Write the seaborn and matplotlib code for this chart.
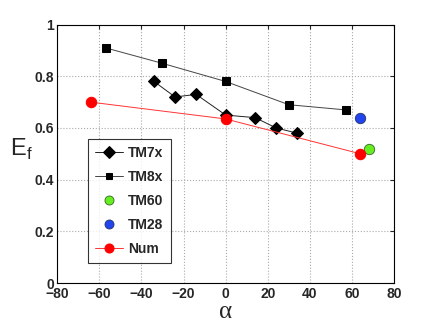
import matplotlib
matplotlib.use("Agg")
import matplotlib.pyplot as plt
import seaborn as sns
import pandas as pd

# Values
tm7x_alpha = [-34, -24, -14, 0, 14, 24, 34]
tm7x_ef = [0.78, 0.72, 0.73, 0.65, 0.64, 0.60, 0.58]

tm8x_alpha = [-57, -30, 0, 30, 57]
tm8x_ef = [0.91, 0.85, 0.78, 0.69, 0.67]

tm60_alpha = [68]
tm60_ef = [0.52]

tm28_alpha = [64]
tm28_ef = [0.64]

num_alpha = [-64, 0, 64]
num_ef = [0.70, 0.635, 0.50]

sns.set_style("white")
plt.rcParams['font.family'] = ['Liberation Sans', 'DejaVu Sans']

fig = plt.figure(figsize=(4.36, 3.28), dpi=100)
ax = fig.add_axes([0.131, 0.137, 0.773, 0.788])

df7 = pd.DataFrame({'alpha': tm7x_alpha, 'Ef': tm7x_ef})
df8 = pd.DataFrame({'alpha': tm8x_alpha, 'Ef': tm8x_ef})
dfn = pd.DataFrame({'alpha': num_alpha, 'Ef': num_ef})

sns.lineplot(data=df7, x='alpha', y='Ef', ax=ax, color='#222222', lw=0.7,
             marker='D', markersize=6.5, markerfacecolor='black',
             markeredgecolor='black', label='TM7x', sort=False)
sns.lineplot(data=df8, x='alpha', y='Ef', ax=ax, color='#444444', lw=0.7,
             marker='s', markersize=6, markerfacecolor='black',
             markeredgecolor='black', label='TM8x', sort=False)
ax.plot(tm60_alpha, tm60_ef, ls='none', marker='o', markersize=7.5,
        markerfacecolor='#66ee22', markeredgecolor='#336622', mew=0.6, label='TM60')
ax.plot(tm28_alpha, tm28_ef, ls='none', marker='o', markersize=7.5,
        markerfacecolor='#2244ee', markeredgecolor='#223366', mew=0.6, label='TM28')
sns.lineplot(data=dfn, x='alpha', y='Ef', ax=ax, color='#ff3333', lw=0.7,
             marker='o', markersize=7.5, markerfacecolor='#ff0000',
             markeredgecolor='#ff0000', label='Num', sort=False)

ax.set_xlim(-80, 80)
ax.set_ylim(0, 1)
ax.set_xticks(range(-80, 81, 20))
ax.set_yticks([0, 0.2, 0.4, 0.6, 0.8, 1.0])
ax.set_yticklabels(['0', '0.2', '0.4', '0.6', '0.8', '1'])
ax.grid(True, ls=':', color='#aaaaaa', lw=0.8)
ax.tick_params(direction='in', length=3, top=True, right=True, labelsize=10,
               pad=2)
ax.tick_params(axis='x', pad=3)
for lab in ax.get_xticklabels() + ax.get_yticklabels():
    lab.set_fontweight('bold')
for s in ax.spines.values():
    s.set_color('black')
    s.set_linewidth(0.8)

ax.set_xlabel('α', fontsize=18, labelpad=0, family=['Liberation Serif'])
ax.set_ylabel(r'E$_\mathregular{f}$', fontsize=17, rotation=0)
ax.yaxis.set_label_coords(-0.105, 0.47)

leg = ax.legend(loc='lower left', bbox_to_anchor=(0.093, 0.078), frameon=True,
                fancybox=False, edgecolor='black', fontsize=10,
                handlelength=2.0, labelspacing=0.72, borderpad=0.5,
                handletextpad=0.36, borderaxespad=0)
leg.get_frame().set_linewidth(0.8)
for t in leg.get_texts():
    t.set_fontweight('bold')
sizes = [6, 4.5, 6.5, 6.5, 6.5]
for h, ms in zip(leg.legend_handles, sizes):
    h.set_markersize(ms)

fig.savefig('out.png', dpi=100)
